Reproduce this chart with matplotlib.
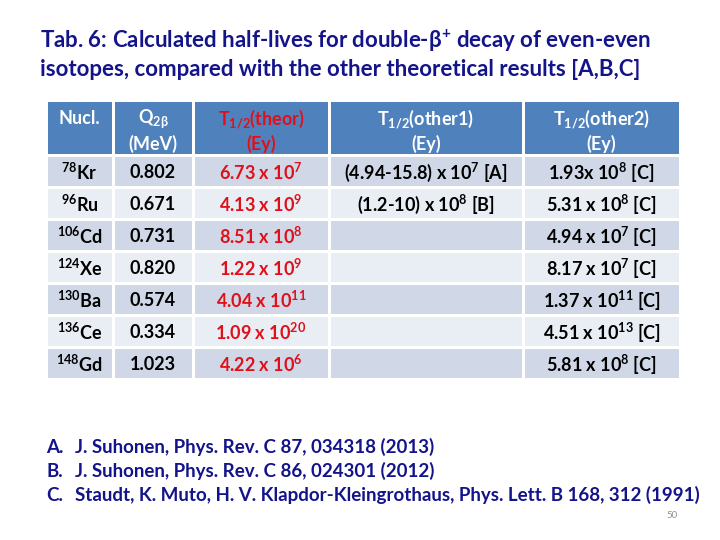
import matplotlib
matplotlib.use("Agg")
import matplotlib.pyplot as plt
from matplotlib.patches import Rectangle

plt.rcParams['font.family'] = ['Lato', 'DejaVu Sans']
plt.rcParams['font.weight'] = 'bold'
plt.rcParams['mathtext.fontset'] = 'custom'
plt.rcParams['mathtext.rm'] = 'Lato:bold'
plt.rcParams['mathtext.it'] = 'Lato:bold'
plt.rcParams['mathtext.bf'] = 'Lato:bold'

NAVY = '#14148a'
RED = '#e0101a'

# table contents
headers = ['Nucl.', 'Q$_{2\\beta}$\n(MeV)', 'T$_{1/2}$(theor)\n(Ey)',
           'T$_{1/2}$(other1)\n(Ey)', 'T$_{1/2}$(other2)\n(Ey)']
nuclei = ['$^{78}$Kr', '$^{96}$Ru', '$^{106}$Cd', '$^{124}$Xe',
          '$^{130}$Ba', '$^{136}$Ce', '$^{148}$Gd']
q_values = ['0.802', '0.671', '0.731', '0.820', '0.574', '0.334', '1.023']
t_theor = ['6.73 x 10$^{7}$', '4.13 x 10$^{9}$', '8.51 x 10$^{8}$',
           '1.22 x 10$^{9}$', '4.04 x 10$^{11}$', '1.09 x 10$^{20}$',
           '4.22 x 10$^{6}$']
t_other1 = ['(4.94-15.8) x 10$^{7}$ [A]', '(1.2-10) x 10$^{8}$ [B]',
            '', '', '', '', '']
t_other2 = ['1.93x 10$^{8}$ [C]', '5.31 x 10$^{8}$ [C]', '4.94 x 10$^{7}$ [C]',
            '8.17 x 10$^{7}$ [C]', '1.37 x 10$^{11}$ [C]',
            '4.51 x 10$^{13}$ [C]', '5.81 x 10$^{8}$ [C]']
refs = [('A.', 'J. Suhonen, Phys. Rev. C 87, 034318 (2013)'),
        ('B.', 'J. Suhonen, Phys. Rev. C 86, 024301 (2012)'),
        ('C.', 'Staudt, K. Muto, H. V. Klapdor-Kleingrothaus, Phys. Lett. B 168, 312 (1991)')]

fig = plt.figure(figsize=(7.2, 5.4), dpi=100)
ax = fig.add_axes([0, 0, 1, 1])
ax.set_xlim(0, 720)
ax.set_ylim(540, 0)
ax.axis('off')

# title
ax.text(40, 48, 'Tab. 6: Calculated half-lives for double-β$^{+}$ decay of even-even',
        fontsize=16, color=NAVY, va='baseline', ha='left')
ax.text(40, 76, 'isotopes, compared with the other theoretical results [A,B,C]',
        fontsize=16, color=NAVY, va='baseline', ha='left')

# table geometry
col_edges = [46, 113, 193, 329, 523, 680]
head_top, head_bot = 102, 155
row_h = 32
gap = 1.5
dark, light, blue = '#d0d8e8', '#e9edf4', '#4f81bd'

cols = [nuclei, q_values, t_theor, t_other1, t_other2]
for j in range(5):
    x0, x1 = col_edges[j], col_edges[j + 1]
    ax.add_patch(Rectangle((x0 + gap, head_top), x1 - x0 - 2 * gap, head_bot - head_top - gap,
                           facecolor=blue, edgecolor='none'))
    hc = RED if j == 2 else 'white'
    if j == 0:
        ax.text((x0 + x1) / 2, 118, headers[j], color=hc, fontsize=13, ha='center', va='center')
    else:
        ax.text((x0 + x1) / 2, 130, headers[j], color=hc, fontsize=13, ha='center', va='center',
                linespacing=1.3)
    for i, val in enumerate(cols[j]):
        y0 = head_bot + i * row_h + gap
        ax.add_patch(Rectangle((x0 + gap, y0), x1 - x0 - 2 * gap, row_h - 2 * gap,
                               facecolor=dark if i % 2 == 0 else light, edgecolor='none'))
        if val:
            ax.text((x0 + x1) / 2, y0 + row_h / 2, val, color=RED if j == 2 else 'black',
                    fontsize=13, ha='center', va='center')

# references
for k, (lab, txt) in enumerate(refs):
    y = 453 + k * 24
    ax.text(46, y, lab, color=NAVY, fontsize=13.5, ha='left', va='baseline')
    ax.text(75, y, txt, color=NAVY, fontsize=13.5, ha='left', va='baseline')

ax.text(678, 516, '50', color='#909090', fontsize=7, ha='right', va='center', fontweight='normal')

fig.savefig('out.png', dpi=100, facecolor='white')
